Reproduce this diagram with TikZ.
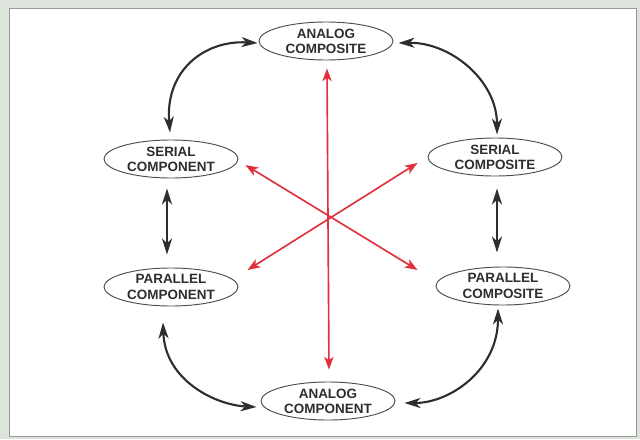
\documentclass[tikz,border=0pt]{standalone}
\usepackage{fontspec}
\setmainfont{Liberation Sans}
\usetikzlibrary{shapes.geometric,arrows.meta}
\definecolor{paper}{HTML}{DCE4DC}
\definecolor{ink}{HTML}{2E2E2E}
\definecolor{redline}{HTML}{E0303C}
\tikzset{
	mode/.style={ellipse, draw=ink!85, line width=0.8pt, fill=white,
		minimum width=4.02cm, minimum height=1.14cm, inner sep=0pt,
		align=center, text=ink, font=\fontsize{11.5}{13}\selectfont\bfseries},
	link/.style={ink, line width=1.8pt,
		{Stealth[length=4.8mm,width=3mm,inset=1.4mm]}-{Stealth[length=4.8mm,width=3mm,inset=1.4mm]}},
	cross/.style={redline, line width=1.4pt,
		{Stealth[length=3.8mm,width=2.8mm,inset=1mm]}-{Stealth[length=3.8mm,width=2.8mm,inset=1mm]}}
}
\begin{document}
\begin{tikzpicture}[x=0.03cm, y=-0.03cm]
		\useasboundingbox (0, 0) rectangle (640, 439);
		\fill[paper] (0, 0) rectangle (640, 439);
		\filldraw[fill=white, draw=gray!80, line width=0.8pt] (9, 8) rectangle (636, 436);
		% the six modes
		\node[mode] (ac) at (326, 41) {ANALOG\\COMPOSITE};
		\node[mode] (sc) at (171, 159) {SERIAL\\COMPONENT};
		\node[mode] (pc) at (171, 287) {PARALLEL\\COMPONENT};
		\node[mode] (sp) at (495, 157) {SERIAL\\COMPOSITE};
		\node[mode] (pp) at (503, 286) {PARALLEL\\COMPOSITE};
		\node[mode] (an) at (328, 401) {ANALOG\\COMPONENT};
		% neighbours
		\draw[link] ([shift={(-1, -7)}]sc.north) .. controls (165, 70) and (205, 40) .. ([shift={(-1, 2)}]ac.west);
		\draw[link] ([shift={(5, 2)}]ac.east) .. controls (450, 42) and (497, 80) .. ([shift={(2, -3)}]sp.north);
		\draw[link] ([shift={(-4, 10)}]sc.south) -- ([shift={(-4, -13)}]pc.north);
		\draw[link] ([shift={(2, 12)}]sp.south) -- ([shift={(-6, -14)}]pp.north);
		\draw[link] ([shift={(-8, 16)}]pc.south) .. controls (165, 380) and (215, 405) .. ([shift={(-4, 6)}]an.west);
		\draw[link] ([shift={(-5, 3)}]pp.south) .. controls (498, 370) and (450, 403) .. ([shift={(9, 2)}]an.east);
		% opposites
		\draw[cross] ([shift={(1, 8)}]ac.south) -- ([shift={(1, -12)}]an.north);
		\draw[cross] ([shift={(7, 6)}]sc.east) -- ([shift={(-18, -16)}]pp.west);
		\draw[cross] ([shift={(9, -17)}]pc.east) -- ([shift={(-10, 6)}]sp.west);
	\end{tikzpicture}
\end{document}
